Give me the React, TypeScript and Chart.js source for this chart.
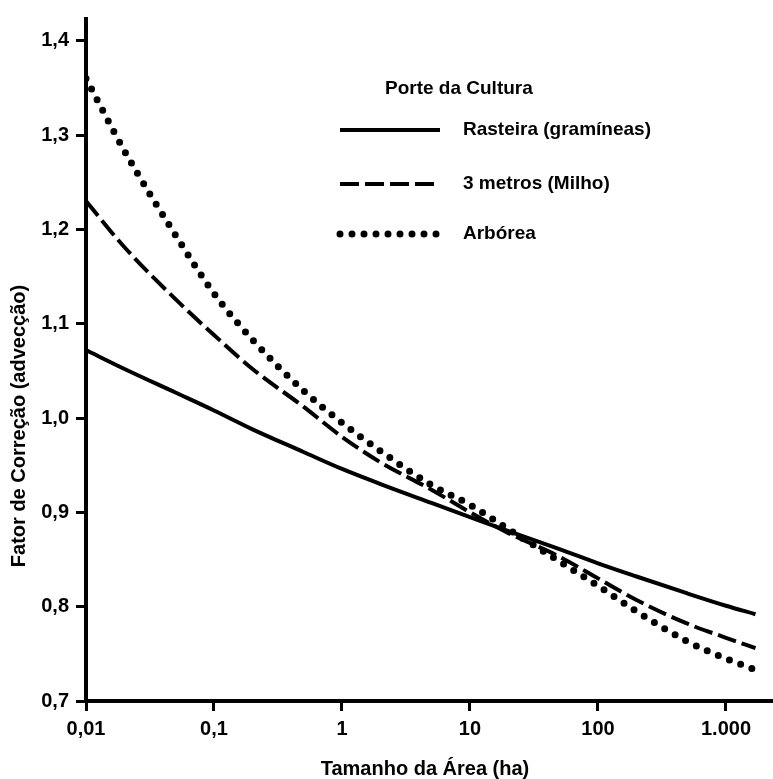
import React, { useEffect, useRef } from "react";
import { Chart, registerables } from "chart.js";

Chart.register(...registerables);

const areaHa = [0.01, 0.02, 0.05, 0.1, 0.2, 0.5, 1, 2, 5, 10, 20, 50, 100, 200, 500, 1000, 1700];
const rasteira = [1.072, 1.052, 1.027, 1.008, 0.988, 0.964, 0.946, 0.930, 0.910, 0.895, 0.880, 0.861, 0.846, 0.832, 0.814, 0.801, 0.792];
const milho = [1.230, 1.181, 1.126, 1.088, 1.052, 1.012, 0.980, 0.953, 0.924, 0.900, 0.878, 0.853, 0.830, 0.807, 0.782, 0.767, 0.756];
const arborea = [1.360, 1.283, 1.194, 1.132, 1.083, 1.029, 0.995, 0.965, 0.929, 0.908, 0.882, 0.848, 0.822, 0.795, 0.763, 0.745, 0.733];

const seriesNames = ["Rasteira (gramíneas)", "3 metros (Milho)", "Arbórea"];
const legendTitle = "Porte da Cultura";
const xTicks = [0.01, 0.1, 1, 10, 100, 1000];
const xTickLabels = ["0,01", "0,1", "1", "10", "100", "1.000"];
const yTicks = [0.7, 0.8, 0.9, 1.0, 1.1, 1.2, 1.3, 1.4];
const yTickLabels = ["0,7", "0,8", "0,9", "1,0", "1,1", "1,2", "1,3", "1,4"];
const xTitle = "Tamanho da Área (ha)";
const yTitle = "Fator de Correção (advecção)";

const FONT = "'Liberation Sans', Arial, sans-serif";

const customText = {
  id: "customText",
  afterDraw(chart: any) {
    const ctx = chart.ctx;
    ctx.save();
    ctx.fillStyle = "#000";
    // axis titles
    ctx.font = `bold 20px ${FONT}`;
    ctx.textAlign = "center";
    ctx.textBaseline = "middle";
    ctx.fillText(xTitle, 425, 769);
    ctx.save();
    ctx.translate(19, 426);
    ctx.rotate(-Math.PI / 2);
    ctx.fillText(yTitle, 0, 0);
    ctx.restore();

    // legend
    ctx.textAlign = "left";
    ctx.font = `bold 19px ${FONT}`;
    ctx.fillText(legendTitle, 385, 89);
    const rows = [130, 184, 234];
    chart.data.datasets.forEach((ds: any, i: number) => {
      const y = rows[i];
      ctx.save();
      ctx.strokeStyle = "#000";
      ctx.lineWidth = ds.borderWidth;
      ctx.lineCap = ds.borderCapStyle || "butt";
      ctx.setLineDash(ds.borderDash || []);
      ctx.beginPath();
      ctx.moveTo(340, y);
      ctx.lineTo(440, y);
      ctx.stroke();
      ctx.restore();
      ctx.fillText(ds.label, 463, y);
    });
    ctx.restore();
  },
};

export default function App() {
  const ref = useRef<HTMLCanvasElement>(null);
  useEffect(() => {
    if (!ref.current) return;
    const mk = (ys: number[]) => areaHa.map((x, i) => ({ x, y: ys[i] }));
    const chart = new Chart(ref.current, {
      type: "line",
      data: {
        datasets: [
          {
            label: seriesNames[0],
            data: mk(rasteira),
            borderColor: "#000",
            borderWidth: 4,
            pointRadius: 0,
            cubicInterpolationMode: "monotone",
            fill: false,
          },
          {
            label: seriesNames[1],
            data: mk(milho),
            borderColor: "#000",
            borderWidth: 4,
            borderDash: [19, 6],
            pointRadius: 0,
            cubicInterpolationMode: "monotone",
            fill: false,
          },
          {
            label: seriesNames[2],
            data: mk(arborea),
            borderColor: "#000",
            borderWidth: 7,
            borderDash: [0, 12],
            borderCapStyle: "round",
            pointRadius: 0,
            cubicInterpolationMode: "monotone",
            fill: false,
          },
        ],
      } as any,
      options: {
        animation: false,
        responsive: false,
        layout: { padding: { top: 13, right: 0, left: 0, bottom: 0 } },
        plugins: {
          legend: { display: false },
          tooltip: { enabled: false },
          title: { display: false },
        },
        scales: {
          x: {
            type: "logarithmic",
            min: 0.01,
            max: 2330,
            afterBuildTicks: (s: any) => {
              s.ticks = xTicks.map((v) => ({ value: v }));
            },
            afterFit: (s: any) => {
              s.height = 78;
            },
            ticks: {
              color: "#000",
              font: { family: FONT, size: 20, weight: "bold" },
              padding: 6,
              maxRotation: 0,
              autoSkip: false,
              callback: (v: any) => {
                const i = xTicks.findIndex((t) => Math.abs(t - v) / t < 1e-6);
                return i >= 0 ? xTickLabels[i] : "";
              },
            },
            grid: {
              display: true,
              drawOnChartArea: false,
              drawTicks: true,
              tickLength: 10,
              lineWidth: 3,
              color: "#000",
            },
            border: { display: true, width: 4, color: "#000" },
          },
          y: {
            type: "linear",
            min: 0.7,
            max: 1.423,
            afterBuildTicks: (s: any) => {
              s.ticks = yTicks.map((v) => ({ value: v }));
            },
            afterFit: (s: any) => {
              s.width = 86;
            },
            ticks: {
              color: "#000",
              font: { family: FONT, size: 20, weight: "bold" },
              padding: 7,
              callback: (v: any) => {
                const i = yTicks.findIndex((t) => Math.abs(t - v) < 1e-6);
                return i >= 0 ? yTickLabels[i] : "";
              },
            },
            grid: {
              display: true,
              drawOnChartArea: false,
              drawTicks: true,
              tickLength: 10,
              lineWidth: 3,
              color: "#000",
            },
            border: { display: true, width: 4, color: "#000" },
          },
        },
      } as any,
      plugins: [customText],
    });
    return () => chart.destroy();
  }, []);
  return (
    <div style={{ position: "absolute", left: 0, top: 0, width: 773, height: 779, background: "#fff" }}>
      <canvas ref={ref} width={773} height={779} style={{ display: "block", width: 773, height: 779 }} />
    </div>
  );
}
